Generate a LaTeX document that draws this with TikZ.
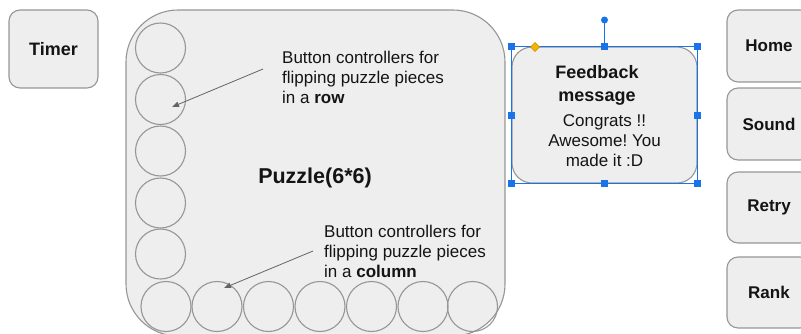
\documentclass[tikz,border=0pt]{standalone}
\usepackage{fontspec}
\setmainfont{Liberation Sans}
\usetikzlibrary{arrows.meta,calc}
\frenchspacing
\definecolor{boxfill}{RGB}{238,238,238}
\definecolor{boxline}{RGB}{150,150,150}
\definecolor{selblue}{RGB}{26,115,232}
\definecolor{handleor}{RGB}{244,180,0}
\definecolor{arrowgray}{RGB}{100,100,100}
\definecolor{txt}{RGB}{20,20,20}
\begin{document}
\begin{tikzpicture}[x=1pt,y=-1pt,
  btn/.style={draw=boxline, fill=boxfill, line width=1.1pt, rounded corners=11pt,
    inner sep=0pt, text=txt, font=\bfseries\fontsize{17}{20}\selectfont},
  pcircle/.style={circle, draw=boxline, line width=1.1pt, minimum size=50pt, inner sep=0pt},
  note/.style={inner sep=0pt, align=left, text=txt, font=\fontsize{17}{20}\selectfont},
  arr/.style={draw=arrowgray, line width=0.8pt, -{Triangle[length=7pt,width=5.5pt]}},
  handle/.style={rectangle, fill=selblue, minimum size=7pt, inner sep=0pt},
]
\useasboundingbox (0,0) rectangle (801,333);

% Timer
\node[btn, minimum width=89pt, minimum height=78pt, font=\bfseries\fontsize{18}{20}\selectfont] (timer) at (53.5,49) {Timer};

% Puzzle area
\node[btn, rounded corners=52pt, minimum width=379pt, minimum height=326pt] (puzzle) at (315.5,173) {};
\node[inner sep=0pt, anchor=base, text=txt, font=\bfseries\fontsize{21.5}{24}\selectfont] (plabel) at (315,183) {Puzzle(6*6)};

% left column circles
\foreach \i/\yy in {1/48,2/99.5,3/151,4/203,5/254}
  \node[pcircle] (l\i) at (160.5,\yy) {};
% bottom row circles
\foreach \i/\xx in {1/166,2/217,3/268.5,4/320,5/371.5,6/423,7/472.5}
  \node[pcircle] (b\i) at (\xx,306.5) {};

% notes (base anchor = last line's baseline)
\node[note, anchor=base west] (note1) at (282,103) {Button controllers for\\flipping puzzle pieces\\in a \textbf{row}};
\node[note, anchor=base west] (note2) at (324,277) {Button controllers for\\flipping puzzle pieces\\in a \textbf{column}};

\coordinate (a1s) at (263,69);
\coordinate (a1e) at ($(l2)+(11.5,7.5)$);
\coordinate (a2s) at (313,251);
\coordinate (a2e) at ($(b2)+(7,-18.5)$);
\draw[arr] (a1s) -- (a1e);
\draw[arr] (a2s) -- (a2e);

% Feedback box
\node[btn, rounded corners=20pt, minimum width=185pt, minimum height=136pt] (fb) at (604.5,115) {};
\node[inner sep=0pt, anchor=base, align=center, text=txt, font=\bfseries\fontsize{18}{23}\selectfont] (fbtitle) at (597,101) {Feedback\\message};
\node[inner sep=0pt, anchor=base, align=center, text=txt, font=\fontsize{17}{20}\selectfont] (fbtext) at (604.5,166) {Congrats !!\\Awesome! You\\made it :D};

% selection overlay
\draw[selblue, line width=0.9pt] (fb.north west) rectangle (fb.south east);
\coordinate (rot) at (604.5,20);
\draw[selblue, line width=0.9pt] (fb.north) -- (rot);
\node[circle, fill=selblue, minimum size=7pt, inner sep=0pt] (rotdot) at (rot) {};
\foreach \a in {north west,north,north east,east,south east,south,south west,west}
  \node[handle] at (fb.\a) {};
\coordinate (dia) at (535,47);
\draw[fill=handleor, draw=handleor!80!black, line width=0.4pt] ($(dia)+(0,-4.5)$) -- ($(dia)+(4.5,0)$) -- ($(dia)+(0,4.5)$) -- ($(dia)+(-4.5,0)$) -- cycle;

% right buttons
\node[btn, minimum width=84pt, minimum height=72pt] (home) at (769,46) {Home};
\node[btn, minimum width=84pt, minimum height=72pt] (sound) at (769,124) {Sound};
\node[btn, minimum width=84pt, minimum height=71pt] (retry) at (769,207.5) {Retry};
\node[btn, minimum width=84pt, minimum height=71pt] (rank) at (769,292.5) {Rank};
\end{tikzpicture}
\end{document}
